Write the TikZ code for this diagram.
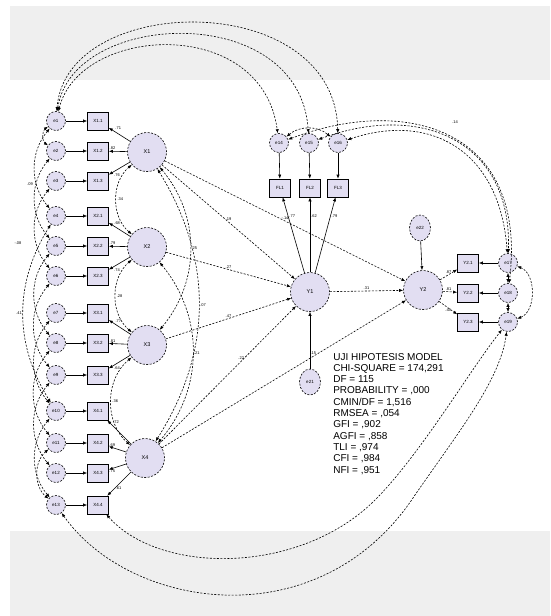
\documentclass[tikz,border=0pt]{standalone}
\usepackage{fontspec}
\setmainfont{Liberation Sans}
\usetikzlibrary{arrows.meta,shapes.geometric}
\definecolor{lav}{RGB}{226,222,242}
\definecolor{bandgrey}{RGB}{239,239,239}
\begin{document}
\begin{tikzpicture}[x=1pt,y=-1pt,line width=0.6pt,
  dsh/.style={dash pattern=on 2pt off 1.5pt},
  err/.style={circle,draw,dsh,fill=lav,minimum size=19pt,inner sep=0pt,font=\fontsize{4.5}{4.5}\selectfont},
  erre/.style={ellipse,draw,dsh,fill=lav,minimum width=21pt,minimum height=26pt,inner sep=0pt,font=\fontsize{4.5}{4.5}\selectfont},
  lat/.style={circle,draw,dsh,fill=lav,minimum size=39pt,inner sep=0pt,font=\fontsize{5.5}{5.5}\selectfont},
  obs/.style={rectangle,draw,solid,fill=lav,minimum width=21pt,minimum height=18pt,inner sep=0pt,font=\fontsize{4.5}{4.5}\selectfont},
  pth/.style={-{Latex[length=4pt,width=3.2pt]}},
  dpth/.style={-{Latex[length=4pt,width=3.2pt]},dsh},
  cov/.style={{Latex[length=4pt,width=3.2pt]}-{Latex[length=4pt,width=3.2pt]},dsh},
  lbl/.style={font=\fontsize{4}{4}\selectfont,inner sep=1pt},
  fitline/.style={anchor=base west,inner sep=0pt,font=\fontsize{10}{10}\selectfont}
]
\path[use as bounding box] (0,0) rectangle (550,616);
\fill[white] (0,0) rectangle (550,616);
\fill[bandgrey] (10,6) rectangle (550,80);
\fill[bandgrey] (10,531) rectangle (550,616);

% left indicators
\foreach \i/\y/\t in {1/121/X1.1,2/151/X1.2,3/181/X1.3,4/216/X2.1,5/246/X2.2,6/276/X2.3,7/313/X3.1,8/343/X3.2,9/375/X3.3,10/411/X4.1,11/443/X4.2,12/473/X4.3,13/505/X4.4}{
  \node[err] (e\i) at (56,\y) {e\i};
  \node[obs] (b\i) at (98,\y) {\t};
  \draw[pth] (e\i) -- (b\i);
}

% latents
\node[lat] (X1) at (147,152) {X1};
\node[lat] (X2) at (147,247) {X2};
\node[lat] (X3) at (147,345) {X3};
\node[lat] (X4) at (145,458) {X4};
\node[lat] (Y1) at (310,292) {Y1};
\node[lat] (Y2) at (423,290) {Y2};
\node[erre] (e21) at (310,382) {e21};
\node[erre] (e22) at (420,228) {e22};

% Y1 indicators
\node[obs] (FL1) at (280,188) {FL1};
\node[obs] (FL2) at (310,188) {FL2};
\node[obs] (FL3) at (338,188) {FL3};
\node[err] (e14) at (279,143) {e14};
\node[err] (e15) at (309,143) {e15};
\node[err] (e16) at (338,143) {e16};

% Y2 indicators
\node[obs] (R1) at (468,263) {Y2.1};
\node[obs] (R2) at (468,293) {Y2.2};
\node[obs] (R3) at (468,322) {Y2.3};
\node[err] (e17) at (508,263) {e17};
\node[err] (e18) at (508,293) {e18};
\node[err] (e19) at (508,322) {e19};

% loadings
\draw[pth] (X1) -- (b1) node[lbl,pos=.75,above right]{.71};
\draw[pth] (X1) -- (b2) node[lbl,pos=.8,above]{.82};
\draw[pth] (X1) -- (b3) node[lbl,pos=.8,below right]{.76};
\draw[pth] (X2) -- (b4) node[lbl,pos=.8,above right]{.68};
\draw[pth] (X2) -- (b5) node[lbl,pos=.8,above]{.79};
\draw[pth] (X2) -- (b6) node[lbl,pos=.8,below right]{.74};
\draw[pth] (X3) -- (b7) node[lbl,pos=.75,above right]{.77};
\draw[pth] (X3) -- (b8) node[lbl,pos=.8,above]{.81};
\draw[pth] (X3) -- (b9) node[lbl,pos=.8,below right]{.64};
\draw[pth] (X4) -- (b10) node[lbl,pos=.8,above right]{.72};
\draw[pth] (X4) -- (b11) node[lbl,pos=.8,above]{.69};
\draw[pth] (X4) -- (b12) node[lbl,pos=.8,below]{.75};
\draw[pth] (X4) -- (b13) node[lbl,pos=.7,right]{.61};

\draw[pth] (e14) -- (FL1);
\draw[pth] (e15) -- (FL2);
\draw[pth] (e16) -- (FL3);
\draw[pth] (Y1) -- (FL1) node[lbl,pos=.75,right]{.77};
\draw[pth] (Y1) -- (FL2) node[lbl,pos=.75,right]{.62};
\draw[pth] (Y1) -- (FL3) node[lbl,pos=.75,right]{.79};

\draw[pth] (e17) -- (R1);
\draw[pth] (e18) -- (R2);
\draw[pth] (e19) -- (R3);
\draw[dpth] (Y2) -- (R1) node[lbl,pos=.5,above]{.87};
\draw[dpth] (Y2) -- (R2) node[lbl,pos=.4,above]{.81};
\draw[dpth] (Y2) -- (R3) node[lbl,pos=.5,below]{.44};

\draw[pth] (e21) -- (Y1);
\draw[pth] (e22) -- (Y2);

% structural paths
\draw[dpth] (X1) -- (Y1) node[lbl,pos=.5,above]{.19};
\draw[dpth] (X1) -- (Y2) node[lbl,pos=.5,above]{-.14};
\draw[dpth] (X2) -- (Y1) node[lbl,pos=.5,above]{.27};
\draw[dpth] (X3) -- (Y1) node[lbl,pos=.5,above]{.47};
\draw[dpth] (X4) -- (Y1) node[lbl,pos=.6,above]{.22};
\draw[dpth] (X4) -- (Y2) node[lbl,pos=.62,above]{.15};
\draw[dpth] (Y1) -- (Y2) node[lbl,pos=.5,above]{.31};

% latent covariances
\draw[cov] (X1) to[bend right=50] node[lbl,right]{.34} (X2);
\draw[cov] (X2) to[bend right=50] node[lbl,right]{.28} (X3);
\draw[cov] (X3) to[bend right=50] node[lbl,right]{.36} (X4);
\draw[cov] (X1) to[bend left=40] node[lbl,right]{.25} (X3);
\draw[cov] (X2) to[bend left=40] node[lbl,right]{.21} (X4);
\draw[cov] (X1) to[bend left=32] node[lbl,right]{.07} (X4);

% error covariances (left)
\draw[cov] (e1) to[bend right=55] (e2);
\draw[cov] (e1) to[bend right=40] (e4);
\draw[cov] (e2) to[bend right=40] (e5);
\draw[cov] (e3) to[bend right=40] (e6);
\draw[cov] (e5) to[bend right=40] (e8);
\draw[cov] (e6) to[bend right=40] (e9);
\draw[cov] (e7) to[bend right=40] (e10);
\draw[cov] (e8) to[bend right=40] (e11);
\draw[cov] (e9) to[bend right=40] (e12);
\draw[cov] (e10) to[bend right=40] (e13);
\draw[cov] (e4) to[bend right=32] node[lbl,left]{.41} (e10);
\draw[cov] (e11) to[bend right=50] (e13);
\node[lbl] (l1) at (18,243) {-.08};
\node[lbl] (l2) at (30,184) {.09};

% big covariances over the top
\draw[cov] (e1) .. controls (80,25) and (262,15) .. (e14);
\draw[cov] (e1) .. controls (72,10) and (300,0) .. (e15);
\draw[cov] (e1) .. controls (66,-8) and (335,-12) .. (e16);
\draw[cov] (e14) to[bend left=40] (e16);
\draw[cov] (e16) .. controls (430,112) and (500,150) .. (e17);
\draw[cov] (e15) .. controls (420,102) and (512,140) .. (e17);
\draw[cov] (e14) .. controls (405,95) and (528,128) .. (e18);
\node[lbl] (l3) at (455,122) {.14};

% right side covariances
\draw[cov] (e17) -- (e18);
\draw[cov] (e18) -- (e19);
\draw[cov] (e17) to[bend left=70] (e19);

% big covariances below
\draw[cov] (b13) .. controls (160,575) and (300,575) .. (375,500) .. controls (420,455) and (470,370) .. (e19);
\draw[cov] (e13) .. controls (130,610) and (320,640) .. (415,495) .. controls (460,430) and (500,380) .. (e19);

% fit statistics
\foreach \k/\s in {0/{UJI HIPOTESIS MODEL},1/{CHI-SQUARE = 174,291},2/{DF = 115},3/{PROBABILITY = ,000},4/{CMIN/DF = 1,516},5/{RMSEA = ,054},6/{GFI = ,902},7/{AGFI = ,858},8/{TLI = ,974},9/{CFI = ,984},10/{NFI = ,951}}{
  \node[fitline] (fit\k) at (333,{360+11.3*\k}) {\s};
}
\end{tikzpicture}
\end{document}
